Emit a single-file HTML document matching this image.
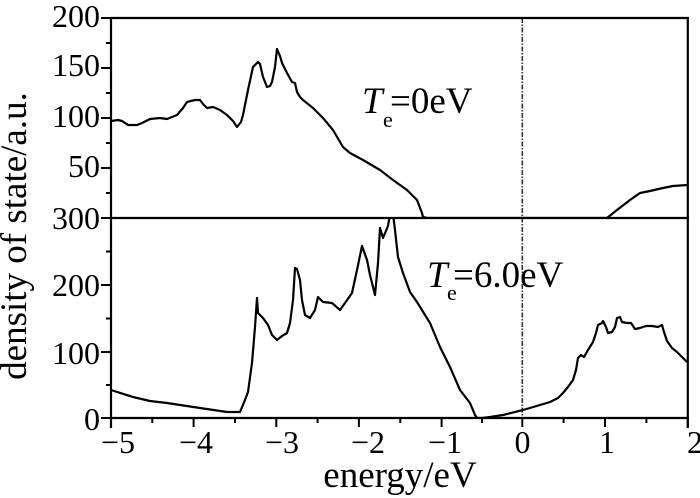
<!DOCTYPE html>
<html>
<head>
<meta charset="utf-8">
<style>
  html, body { margin: 0; padding: 0; background: #fff; }
  svg { display: block; }
  text { font-family: "Liberation Serif", "DejaVu Serif", serif; fill: #000; }
</style>
</head>
<body>
<svg width="700" height="498" viewBox="0 0 700 498" xmlns="http://www.w3.org/2000/svg">
  <rect x="0" y="0" width="700" height="498" fill="#fff"/>
  <defs>
    <clipPath id="lower"><rect x="111" y="218" width="577" height="201"/></clipPath>
    <clipPath id="upper"><rect x="111" y="17" width="577" height="202"/></clipPath>
  </defs>

  <!-- zero-energy dash-dot line -->
  <line x1="522.3" y1="18" x2="522.3" y2="418" stroke="#333" stroke-width="1.6" stroke-dasharray="5 1.5 1.5 1.5"/>

  <!-- upper curve Te=0 -->
  <polyline clip-path="url(#upper)" fill="none" stroke="#000" stroke-width="2.2" stroke-linejoin="round"
    points="111,121 118,120 122,121 128,125 137,125 142,123 150,119 160,118 167,119 177,115 183,108 187,102 195,100 200,100 203,104 207,108 213,107 220,110 227,115 233,121 237,127 241,122 243,115 248,90 253,67 258,62 260,64 263,77 267,87 270,86 272,82 275,67 277,49 280,56 282,63 287,73 292,82 295,83 297,92 300,97 303,100 313,108 323,118 333,130 343,147 350,153 363,160 380,170 393,180 407,190 417,200 422,213 423,217 427,218 607,218 617,210 630,200 640,193 650,191 663,188 673,186 687,185"/>

  <!-- lower curve Te=6.0 -->
  <polyline clip-path="url(#lower)" fill="none" stroke="#000" stroke-width="2.2" stroke-linejoin="round"
    points="111,390 133,397 150,401 167,403 200,408 227,412 240,412 245,400 248,392 252,363 255,327 257,298 258,313 263,318 268,325 272,335 277,340 282,336 287,333 290,323 293,300 295,268 297,269 300,280 302,300 305,315 310,318 315,310 318,297 323,302 332,303 340,310 345,303 352,293 357,270 362,246 367,260 370,275 375,295 378,263 380,228 383,238 388,226 390,214 393,214 395,230 398,257 403,273 410,292 417,302 430,323 440,347 450,367 460,390 470,403 475,415 477,418 482,418 490,417 503,415 523,410 540,405 550,402 558,398 563,393 568,387 573,380 576,370 578,358 581,355 584,357 588,350 593,342 596,333 598,325 602,323 603,321 606,327 608,333 612,332 615,327 617,318 620,317 622,322 627,323 631,323 635,329 640,328 646,326 652,326 658,327 662,325 664,332 667,341 672,348 677,352 682,357 687,362"/>

  <!-- frame -->
  <g stroke="#000" stroke-width="2.2" fill="none">
    <line x1="110" y1="18" x2="689" y2="18"/>
    <line x1="111" y1="17" x2="111" y2="428"/>
    <line x1="687.8" y1="17" x2="687.8" y2="428"/>
    <line x1="110" y1="418" x2="689" y2="418"/>
    <line x1="110" y1="218" x2="689" y2="218"/>
  </g>

  <!-- y ticks -->
  <g stroke="#000" stroke-width="2">
    <line x1="101" y1="18" x2="111" y2="18"/>
    <line x1="101" y1="68" x2="111" y2="68"/>
    <line x1="101" y1="118" x2="111" y2="118"/>
    <line x1="101" y1="168" x2="111" y2="168"/>
    <line x1="101" y1="218" x2="111" y2="218"/>
    <line x1="106" y1="43" x2="111" y2="43"/>
    <line x1="106" y1="93" x2="111" y2="93"/>
    <line x1="106" y1="143" x2="111" y2="143"/>
    <line x1="106" y1="193" x2="111" y2="193"/>
    <line x1="101" y1="285" x2="111" y2="285"/>
    <line x1="101" y1="352" x2="111" y2="352"/>
    <line x1="101" y1="418" x2="111" y2="418"/>
    <line x1="106" y1="251.5" x2="111" y2="251.5"/>
    <line x1="106" y1="318.5" x2="111" y2="318.5"/>
    <line x1="106" y1="385" x2="111" y2="385"/>
  </g>

  <!-- x ticks -->
  <g stroke="#000" stroke-width="2">
    <line x1="111" y1="418" x2="111" y2="427"/>
    <line x1="193.6" y1="418" x2="193.6" y2="427"/>
    <line x1="276.3" y1="418" x2="276.3" y2="427"/>
    <line x1="358.9" y1="418" x2="358.9" y2="427"/>
    <line x1="441.6" y1="418" x2="441.6" y2="427"/>
    <line x1="522.3" y1="418" x2="522.3" y2="427"/>
    <line x1="605" y1="418" x2="605" y2="427"/>
    <line x1="687.8" y1="418" x2="687.8" y2="427"/>
    <line x1="152.3" y1="418" x2="152.3" y2="423"/>
    <line x1="235" y1="418" x2="235" y2="423"/>
    <line x1="317.6" y1="418" x2="317.6" y2="423"/>
    <line x1="400.3" y1="418" x2="400.3" y2="423"/>
    <line x1="482" y1="418" x2="482" y2="423"/>
    <line x1="563.6" y1="418" x2="563.6" y2="423"/>
    <line x1="646.4" y1="418" x2="646.4" y2="423"/>
  </g>

  <!-- y tick labels -->
  <g font-size="32" text-anchor="end">
    <text x="100" y="27">200</text>
    <text x="100" y="76">150</text>
    <text x="100" y="127">100</text>
    <text x="100" y="177">50</text>
    <text x="100" y="229">300</text>
    <text x="100" y="296">200</text>
    <text x="100" y="364">100</text>
    <text x="100" y="430">0</text>
  </g>

  <!-- x tick labels -->
  <g font-size="32" text-anchor="middle">
    <text x="118" y="453">−5</text>
    <text x="196" y="453">−4</text>
    <text x="282" y="453">−3</text>
    <text x="368" y="453">−2</text>
    <text x="445" y="453">−1</text>
    <text x="522.5" y="453">0</text>
    <text x="607" y="453">1</text>
    <text x="695" y="453">2</text>
  </g>

  <!-- axis titles -->
  <text x="400" y="487" font-size="37" text-anchor="middle">energy/eV</text>
  <text transform="translate(26,236) rotate(-90)" font-size="37" text-anchor="middle">density of state/a.u.</text>

  <!-- annotations -->
  <text x="362" y="113" font-size="37" font-style="italic">T</text>
  <text x="383" y="127" font-size="22">e</text>
  <text x="390" y="113" font-size="37">=0eV</text>

  <text x="427" y="287" font-size="37" font-style="italic">T</text>
  <text x="447" y="300" font-size="22">e</text>
  <text x="453" y="287" font-size="37">=6.0eV</text>
</svg>
</body>
</html>
